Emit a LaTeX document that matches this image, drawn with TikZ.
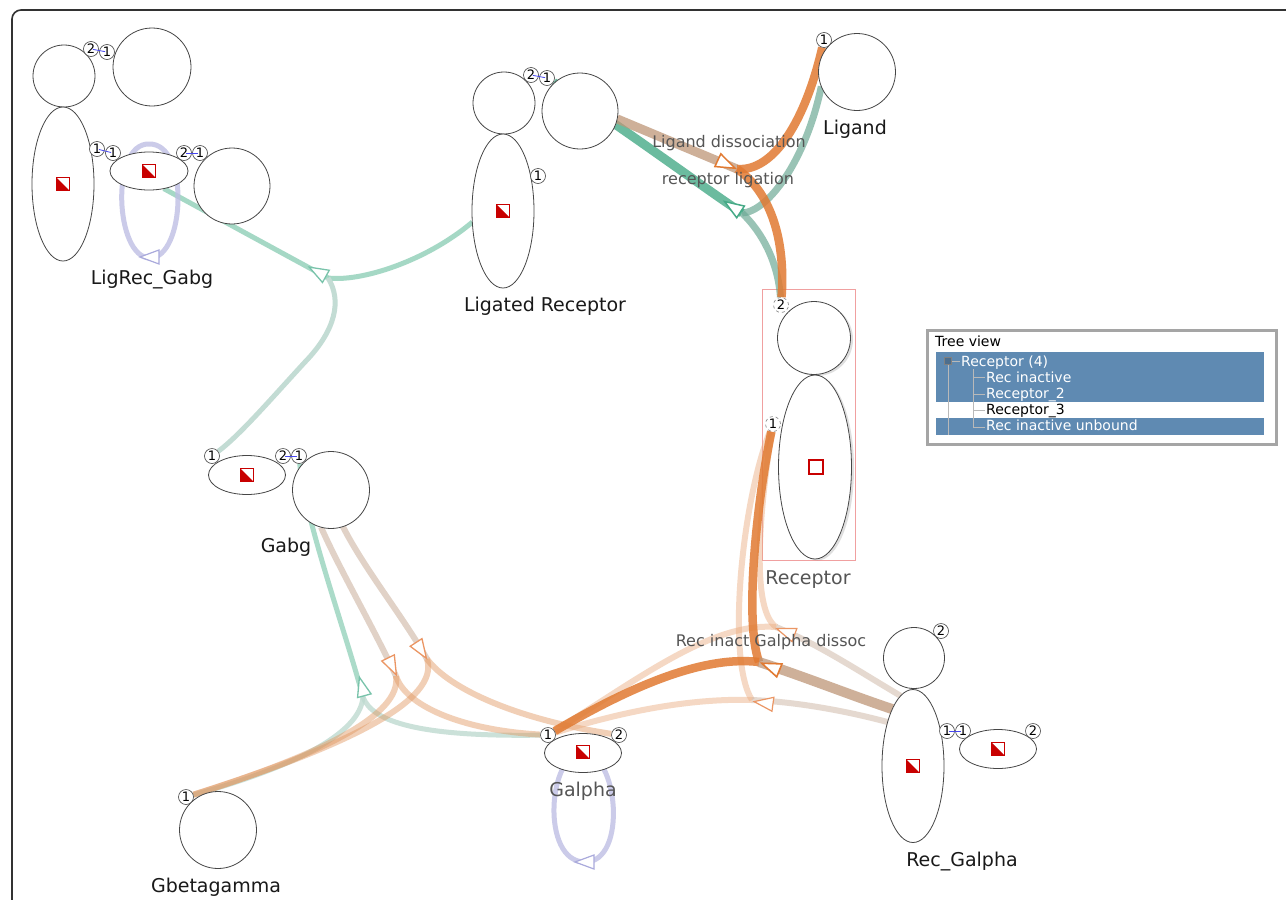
\documentclass[tikz,border=0pt]{standalone}
\usepackage{fontspec}
\setmainfont{DejaVu Sans}
\usetikzlibrary{shapes.geometric,shadows}
\pgfdeclarelayer{bg}
\pgfsetlayers{bg,main}
\definecolor{frameC}{RGB}{50,50,50}
\definecolor{nodeline}{RGB}{70,70,70}
\definecolor{iconred}{RGB}{200,0,0}
\definecolor{orS}{RGB}{225,122,50}
\definecolor{tanS}{RGB}{190,150,120}
\definecolor{grS}{RGB}{70,170,135}
\definecolor{grG}{RGB}{110,170,150}
\definecolor{grL}{RGB}{150,210,188}
\definecolor{grP}{RGB}{195,220,212}
\definecolor{grPP}{RGB}{190,218,208}
\definecolor{tanL}{RGB}{205,180,162}
\definecolor{peach}{RGB}{225,150,95}
\definecolor{peachL}{RGB}{235,170,125}
\definecolor{purp}{RGB}{190,190,228}
\definecolor{purpA}{RGB}{170,170,220}
\definecolor{grA}{RGB}{120,195,170}
\definecolor{orA}{RGB}{235,150,100}
\definecolor{portblue}{RGB}{70,70,240}
\definecolor{labgrey}{RGB}{85,85,85}
\definecolor{treeblue}{RGB}{95,138,178}
\definecolor{treegrey}{RGB}{165,165,165}
\definecolor{pinkbox}{RGB}{240,160,160}
\tikzset{
  mol/.style={draw=nodeline, fill=white, line width=0.8pt, inner sep=0pt, outer sep=0pt},
  molc/.style={mol, circle, minimum size=#1},
  mole/.style 2 args={mol, ellipse, minimum width=#1, minimum height=#2},
  port/.style={circle, draw=nodeline, fill=white, line width=0.6pt, minimum size=15pt, inner sep=0pt, font=\fontsize{13}{13}\selectfont},
  dport/.style={port, draw=gray, dashed},
  link/.style={draw=portblue, line width=0.8pt, shorten >=2pt, shorten <=2pt},
  icon/.style={rectangle, draw=iconred, line width=1pt, minimum size=13pt, inner sep=0pt, fill=white,
    path picture={\fill[iconred] (path picture bounding box.north west) -- (path picture bounding box.south west) -- (path picture bounding box.south east) -- cycle;}},
  lab/.style={anchor=base, font=\fontsize{19}{22}\selectfont, text=black!90},
  glab/.style={lab, text=labgrey},
  rlab/.style={anchor=base, font=\fontsize{16}{18}\selectfont, text=labgrey},
  treetxt/.style={anchor=base west, font=\fontsize{14}{16}\selectfont, inner sep=0pt},
  treeline/.style={draw=gray!55, line width=0.6pt},
  orthick/.style={draw=orS, line width=8.5pt, opacity=0.85},
  tanthick/.style={draw=tanS, line width=9pt, opacity=0.75},
  grthick/.style={draw=grS, line width=9pt, opacity=0.8},
  grgrey/.style={draw=grG, line width=7pt, opacity=0.7},
  grlight/.style={draw=grL, line width=5pt, opacity=0.85},
  grpale/.style={draw=grP, line width=5pt},
  grmid/.style={draw=grL, line width=5pt, opacity=0.8},
  grpp/.style={draw=grPP, line width=5pt, opacity=0.8},
  tanG/.style={draw=tanL, line width=6pt, opacity=0.6},
  peachG/.style={draw=peach, line width=6pt, opacity=0.45},
  peachR/.style={draw=peachL, line width=6pt, opacity=0.45},
  tanR/.style={draw=tanL, line width=6pt, opacity=0.5},
  loopline/.style={draw=purp, line width=5pt, opacity=0.8},
  tri/.pic={\path[pic actions] (10,0) -- (-9,-7) -- (-9,7) -- cycle;},
}
\begin{document}
\begin{tikzpicture}[x=1pt,y=-1pt]
\useasboundingbox (0,0) rectangle (1286,900);
\clip (0,0) rectangle (1286,900);

% ---------------- molecules: LigRec_Gabg
\node[molc=62pt] (LGa) at (64,76) {};
\node[molc=78pt] (LGb) at (152,67) {};
\node[mole={62pt}{154pt}] (LGc) at (63,184) {};
\node[mole={78pt}{38pt}] (LGd) at (149,171) {};
\node[molc=76pt] (LGe) at (232,186) {};
\node[icon] (iLGc) at (63,184) {};
\node[icon] (iLGd) at (149,171) {};
\node[port] (pLGa) at (91,49) {2};
\node[port] (pLGb) at (107,52) {1};
\node[port] (pLGc) at (97,149) {1};
\node[port] (pLGd) at (113,153) {1};
\node[port] (pLGd2) at (184,153) {2};
\node[port] (pLGe) at (200,153) {1};
\draw[link] (pLGa.center) -- (pLGb.center);
\draw[link] (pLGc.center) -- (pLGd.center);
\draw[link] (pLGd2.center) -- (pLGe.center);
\node[lab] (tLigRec) at (152,284) {LigRec\_Gabg};

% ---------------- Ligated Receptor
\node[molc=62pt] (LRa) at (504,103) {};
\node[molc=76pt] (LRb) at (580,111) {};
\node[mole={62pt}{154pt}] (LRe) at (503,211) {};
\node[icon] (iLRe) at (503,211) {};
\node[port] (pLRa) at (531,75) {2};
\node[port] (pLRb) at (547,78) {1};
\node[port] (pLRe) at (538,176) {1};
\draw[link] (pLRa.center) -- (pLRb.center);
\node[lab] (tLR) at (545,311) {Ligated Receptor};

% ---------------- Ligand
\node[molc=77pt] (Lig) at (857,72) {};
\node[port] (pL1) at (824,40) {1};
\node[lab] (tLig) at (855,134) {Ligand};

% ---------------- Receptor
\node[molc=73pt, drop shadow={shadow xshift=2.5pt, shadow yshift=-1.5pt, opacity=0.25}] (RecC) at (814,338) {};
\node[mole={73pt}{184pt}, drop shadow={shadow xshift=2.5pt, shadow yshift=-1.5pt, opacity=0.25}] (RecE) at (815,467) {};
\node[draw=iconred, line width=1.8pt, minimum size=14pt, inner sep=0pt] (iRec) at (816,467) {};
\node[dport] (pR2) at (781,305) {2};
\node[dport] (pR1) at (773,424) {1};
\node[glab] (tRec) at (808,584) {Receptor};

% ---------------- Gabg
\node[mole={77pt}{39pt}] (Ge) at (247,475) {};
\node[molc=77pt] (Gc) at (331,490) {};
\node[icon] (iGe) at (247,475) {};
\node[port] (pGe1) at (212,456) {1};
\node[port] (pGe2) at (283,456) {2};
\node[port] (pGc1) at (299,456) {1};
\draw[link] (pGe2.center) -- (pGc1.center);
\node[lab] (tGabg) at (286,552) {Gabg};

% ---------------- Galpha
\node[mole={77pt}{39pt}] (Ga) at (583,753) {};
\node[icon] (iGa) at (583,752) {};
\node[port] (pGa1) at (548,735) {1};
\node[port] (pGa2) at (619,735) {2};

% ---------------- Gbetagamma
\node[molc=77pt] (Gb) at (218,830) {};
\node[port] (pGb1) at (186,797) {1};
\node[lab] (tGb) at (216,892) {Gbetagamma};

% ---------------- Rec_Galpha
\node[molc=61pt] (RGc) at (914,658) {};
\node[mole={62pt}{153pt}] (RGe) at (913,766) {};
\node[mole={77pt}{39pt}] (RGs) at (998,749) {};
\node[icon] (iRGe) at (913,766) {};
\node[icon] (iRGs) at (998,749) {};
\node[port] (pRGc) at (941,631) {2};
\node[port] (pRGe) at (947,731) {1};
\node[port] (pRGs1) at (963,731) {1};
\node[port] (pRGs2) at (1033,731) {2};
\draw[link] (pRGe.center) -- (pRGs1.center);
\node[lab] (tRG) at (962,866) {Rec\_Galpha};

% ---------------- junctions
\coordinate (J1) at (737,169);
\coordinate (J2) at (742,213);
\coordinate (J3) at (328,278);
\coordinate (J4) at (363,697);
\coordinate (J5) at (396,676);
\coordinate (J6) at (427,659);
\coordinate (Ja) at (759,662);
\coordinate (Jb) at (776,627);
\coordinate (Jc) at (752,700);

% ---------------- connectors (behind nodes)
\begin{pgfonlayer}{bg}
\fill[white] (0,0) rectangle (1286,900);
\draw[frameC, line width=1.6pt, rounded corners=9pt] (1300,10) -- (12,10) -- (12,915);
\draw[pinkbox, line width=0.8pt] (762,289) rectangle (855,560);

% receptor ligation
\draw[grgrey] (J2) .. controls (768,212) and (806,160) .. (Lig.-158);
\draw[grgrey] (J2) .. controls (762,232) and (778,262) .. (pR2);
\draw[grthick] (pLRb) .. controls (640,140) and (700,185) .. (J2);
% Ligand dissociation
\draw[tanthick] (LRb.-12) -- (J1);
\draw[orthick] (J1) .. controls (775,172) and (806,118) .. (pL1);
\draw[orthick] (J1) .. controls (768,190) and (786,235) .. (pR2);

% LigRec_Gabg binding
\draw[grlight] (J3) -- (LGd.-50);
\draw[grlight] (J3) .. controls (360,282) and (425,262) .. (LRe.200);
\draw[grpale] (J3) .. controls (342,300) and (336,330) .. (305,362) .. controls (270,400) and (240,435) .. (pGe1);

% Gabg binding
\draw[grmid] (J4) .. controls (345,630) and (305,520) .. (pGc1);
\draw[grpp] (J4) .. controls (372,722) and (420,737) .. (pGa1);
\draw[grpp] (J4) .. controls (360,735) and (290,768) .. (pGb1);

% Gabg dissociation 1
\draw[tanG] (Gc.-105) .. controls (340,570) and (372,625) .. (J5);
\draw[peachG] (J5) .. controls (402,715) and (320,755) .. (pGb1);
\draw[peachG] (J5) .. controls (405,705) and (460,730) .. (pGa1);
% Gabg dissociation 2
\draw[tanG] (Gc.-72) .. controls (365,570) and (402,615) .. (J6);
\draw[peachG] (J6) .. controls (440,700) and (350,745) .. (pGb1);
\draw[peachG] (J6) .. controls (450,690) and (520,720) .. (pGa2);

% Rec inact Galpha dissoc and related
\draw[peachR] (pR1) .. controls (758,520) and (752,610) .. (Jb);
\draw[peachR] (pGa1) .. controls (640,678) and (712,622) .. (Jb);
\draw[tanR] (RGe.100) .. controls (860,672) and (820,645) .. (Jb);
\draw[peachR] (pR1) .. controls (742,500) and (726,660) .. (Jc);
\draw[peachR] (pGa1) .. controls (620,712) and (690,698) .. (Jc);
\draw[tanR] (RGe.120) .. controls (850,712) and (800,702) .. (Jc);
\draw[orthick] (pR1) .. controls (757,500) and (744,620) .. (Ja);
\draw[orthick] (pGa1) .. controls (625,690) and (700,655) .. (Ja);
\draw[tanthick, line width=10pt] (RGe.110) .. controls (850,695) and (800,675) .. (Ja);

% self loops
\draw[loopline] ([yshift=8pt]LGd.north) .. controls (110,143) and (115,258) .. (150,258) .. controls (185,258) and (190,143) .. ([yshift=8pt]LGd.north);
\draw[loopline] (Ga.center) .. controls (548,752) and (540,862) .. (585,862) .. controls (628,862) and (618,752) .. (Ga.center);
\end{pgfonlayer}

% ---------------- arrowheads
\pic[draw=orS, fill=white, line width=1.5pt, rotate=-25] at (726,164) {tri};
\pic[draw=grS, fill=white, line width=1.5pt, rotate=147] at (733,207) {tri};
\pic[draw=grA, fill=white, line width=1.3pt, rotate=151] at (318,272) {tri};
\pic[draw=grA, fill=white, line width=1.3pt, rotate=105] at (362,687) {tri};
\pic[draw=orA, fill=white, line width=1.3pt, rotate=-64] at (392,666) {tri};
\pic[draw=orA, fill=white, line width=1.3pt, rotate=-57] at (421,650) {tri};
\pic[draw=orS, fill=white, line width=1.6pt, rotate=158] at (771,667) {tri};
\pic[draw=orA, fill=white, line width=1.2pt, rotate=160] at (786,632) {tri};
\pic[draw=orA, fill=white, line width=1.2pt, rotate=172] at (764,703) {tri};
\pic[draw=purpA, fill=white, line width=1.2pt, rotate=180] at (150,257) {tri};
\pic[draw=purpA, fill=white, line width=1.2pt, rotate=180] at (585,862) {tri};

% ---------------- labels drawn over connectors
\node[glab] (tGa) at (583,796) {Galpha};
\node[rlab] (tLD) at (729,147) {Ligand dissociation};
\node[rlab] (tRLig) at (728,184) {receptor ligation};
\node[rlab] (tRIG) at (771,646) {Rec inact Galpha dissoc};

% ---------------- Tree view
\node[draw=treegrey, line width=3pt, fill=white, minimum width=349pt, minimum height=114pt, inner sep=0pt, anchor=north west] (tv) at (925.5,328.5) {};
\fill[treeblue] (936,352) rectangle (1264,402);
\fill[treeblue] (936,418) rectangle (1264,435);
\draw[treeline] (948,365) -- (948,435);
\draw[treeline] (952,361) -- (960,361);
\draw[treeline] (973,369) -- (973,427);
\draw[treeline] (973,377) -- (985,377);
\draw[treeline] (973,394) -- (985,394);
\draw[treeline] (973,410) -- (985,410);
\draw[treeline] (973,427) -- (985,427);
\node[draw=gray, fill=treeblue!80!black, minimum size=7pt, inner sep=0pt] (tvm) at (948,361) {};
\node[treetxt, text=black] (tv0) at (935,346) {Tree view};
\node[treetxt, text=white] (tv1) at (961,366) {Receptor (4)};
\node[treetxt, text=white] (tv2) at (986,382) {Rec inactive};
\node[treetxt, text=white] (tv3) at (986,398) {Receptor\_2};
\node[treetxt, text=black] (tv4) at (986,414) {Receptor\_3};
\node[treetxt, text=white] (tv5) at (986,430) {Rec inactive unbound};
\end{tikzpicture}
\end{document}
